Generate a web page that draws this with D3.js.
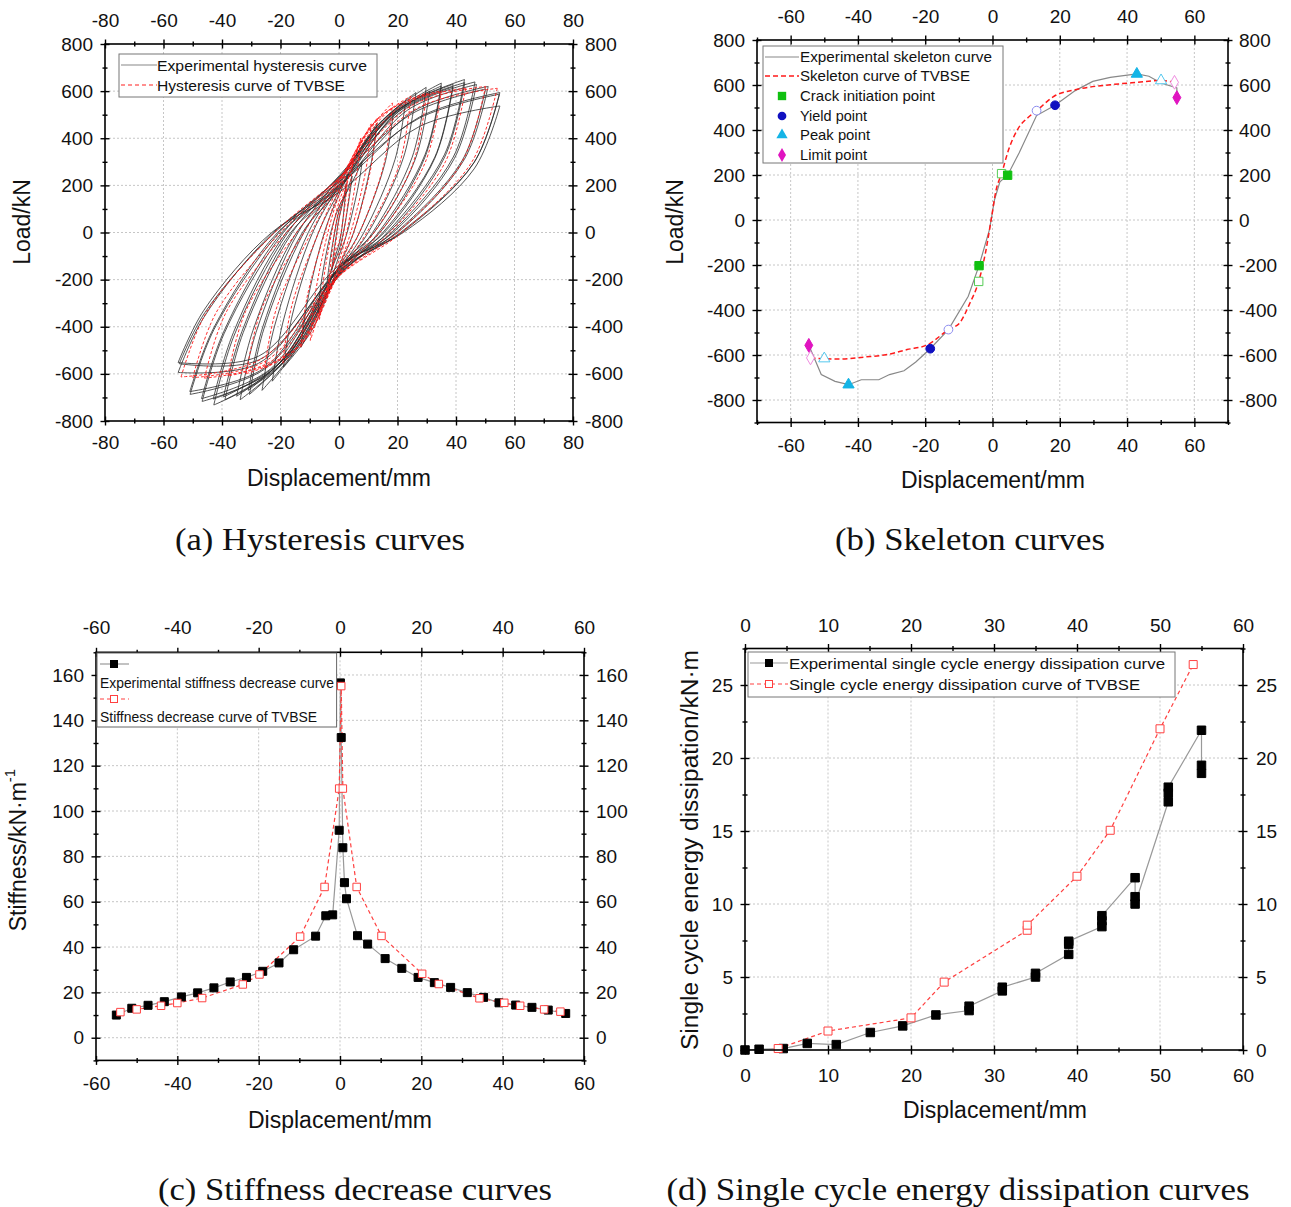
<!DOCTYPE html>
<html lang="en">
<head>
<meta charset="utf-8">
<title>TVBSE test curves</title>
<script src="https://cdn.jsdelivr.net/npm/d3@7"></script>
<style>
  body { margin: 0; background: #fff; }
  svg text { font-family: "Liberation Sans", Arial, sans-serif; fill: #111; }
  .grid line { stroke: #c6c6c6; stroke-dasharray: 2,2; stroke-width: 1; }
  .frame { fill: none; stroke: #000; stroke-width: 1.6; }
</style>
</head>
<body>
<svg id="chart" width="1291" height="1207"></svg>
<script>
// ---- (a) hysteresis loops: tips, zero crossings and shoulder loads read per loop
var expPosDisp   = [2.5, 4.5, 7.9, 13, 18.6, 22.8, 26.3, 29.8, 31, 35, 35, 39, 39, 42.9, 43, 46.5, 47, 50.1, 51, 54.8, 55, 55];
var expPosLoad   = [209, 240, 298, 464, 510, 560, 594, 616, 600, 634, 622, 629, 618, 649, 636, 639, 628, 609, 620, 587, 594, 537];
var expNegDisp   = [-2.5, -4, -7.2, -13, -19, -22.8, -26.3, -30.6, -31, -33.8, -35, -39, -39.5, -42.8, -43, -46.8, -47, -50.9, -51, -54.6, -55, -55];
var expNegLoad   = [-160, -203, -339, -487, -572, -631, -670, -687, -670, -710, -695, -710, -698, -732, -707, -717, -705, -687, -675, -557, -594, -552];
var expUpKnee    = [-115, -140, -210, -300, -350, -380, -400, -410, -400, -425, -415, -425, -420, -440, -425, -430, -423, -412, -405, -340, -360, -330];
var expUpZeroD   = [-0.8, -1.5, -2.8, -5, -7, -9, -10.5, -12, -12.5, -14, -14.5, -16, -16.5, -17.5, -18, -19, -19.5, -20.5, -21, -22, -22.5, -23];
var expUpZeroP   = [60, 90, 110, 160, 175, 200, 210, 220, 180, 230, 190, 225, 185, 240, 200, 235, 190, 230, 195, 215, 200, 170];
var expUpMid     = [125, 160, 200, 320, 385, 430, 455, 475, 470, 500, 495, 515, 505, 530, 525, 530, 520, 505, 515, 485, 490, 450];
var expDownKnee  = [150, 170, 200, 290, 290, 310, 320, 320, 310, 330, 320, 320, 315, 330, 320, 320, 315, 305, 310, 295, 297, 270];
var expDownZeroD = [0.8, 1.5, 2.8, 5, 7, 8.5, 10, 11.5, 12, 13.5, 14, 15, 15.5, 16.5, 17, 18, 18.5, 19.5, 20, 21, 21.5, 22];
var expDownZeroP = [-50, -75, -100, -140, -150, -165, -170, -175, -145, -180, -150, -175, -150, -185, -155, -180, -150, -175, -150, -165, -160, -140];
var expDownMid   = [-100, -140, -230, -330, -420, -440, -470, -500, -490, -525, -520, -555, -545, -580, -570, -590, -580, -580, -575, -540, -555, -525];

var tvPosDisp   = [2.7, 4.8, 7.4, 11, 13.1, 18.3, 24.6, 30, 35, 43.3, 50.1, 54.1];
var tvPosLoad   = [206, 313, 401, 461, 486, 550, 579, 592, 601, 612, 620, 612];
var tvNegDisp   = [-2, -4, -6.7, -9.8, -13.1, -19.2, -25.4, -31.7, -38, -46, -50, -54];
var tvNegLoad   = [-139, -273, -369, -458, -487, -554, -576, -599, -609, -618, -616, -613];
var tvUpKnee    = [-95, -190, -230, -270, -280, -310, -320, -330, -335, -340, -340, -340];
var tvUpZeroD   = [-0.6, -1.5, -2.5, -3.8, -4.8, -7, -9.5, -12, -14.5, -18, -20, -22];
var tvUpZeroP   = [60, 100, 130, 160, 180, 200, 215, 220, 225, 230, 230, 230];
var tvUpMid     = [130, 190, 250, 330, 360, 420, 470, 500, 520, 540, 540, 530];
var tvDownKnee  = [140, 220, 260, 270, 280, 290, 290, 290, 295, 300, 300, 300];
var tvDownZeroD = [0.7, 1.6, 2.6, 4, 5, 7, 9.5, 12, 14, 17.5, 20, 21.5];
var tvDownZeroP = [-45, -90, -120, -140, -150, -165, -175, -180, -180, -185, -185, -185];
var tvDownMid   = [-70, -130, -200, -280, -330, -420, -470, -505, -525, -545, -545, -540];

// ---- (b) skeleton curves
var skelExpX = [-54.6, -50.9, -46.8, -42.8, -39, -33.8, -30.6, -26.3, -22.8, -18.5, -13.1, -7.2, -4, -0.9, 0.6, 2.2, 4.5, 7.9, 13.1, 18.6, 24.6, 29.8, 35, 42.9, 46.5, 50.1, 54.8, 54.8];
var skelExpY = [-557, -687, -717, -732, -710, -710, -687, -670, -631, -572, -487, -339, -203, -43, 90, 170, 199, 298, 464, 510, 575, 616, 634, 649, 639, 609, 587, 544];
var skelTvX = [-54.1, -46, -38, -31.7, -25.4, -19.2, -13.1, -9.8, -6.7, -4.1, -2, -0.4, 1.1, 2.7, 4.8, 7.4, 11, 13.1, 18.3, 24.6, 35, 43.3, 50.1, 54.1];
var skelTvY = [-613, -618, -609, -599, -576, -554, -487, -458, -369, -273, -139, 1, 135, 206, 313, 401, 461, 486, 550, 579, 601, 612, 620, 612];
var crackExp = [[-4, -203], [4.5, 199]],   crackTv = [[-4.1, -273], [2.7, 206]];
var yieldExp = [[-18.5, -572], [18.6, 510]], yieldTv = [[-13.1, -487], [13.1, 486]];
var peakExp  = [[-42.8, -732], [42.9, 649]], peakTv  = [[-50, -616], [50.1, 620]];
var limitExp = [[-54.6, -557], [54.8, 544]], limitTv = [[-54.1, -613], [54.1, 612]];

// ---- (c) stiffness
var stiffExpX = [-55, -51.2, -47.2, -43.2, -39, -35, -31, -27, -23, -19, -15, -11.4, -6, -3.5, -1.8, -0.2, 0.1, 0.3, 0.7, 1.1, 1.6, 4.3, 6.8, 11.1, 15.2, 19.2, 23.2, 27.2, 31.3, 35.3, 39.1, 43.2, 47.2, 51.2, 55.5];
var stiffExpY = [10, 13, 14.3, 15.9, 18, 19.8, 22, 24.6, 26.6, 29.3, 33, 38.8, 44.8, 53.8, 54.2, 91.5, 156.5, 132.4, 83.8, 68.4, 61.3, 45, 41.3, 34.9, 30.6, 26.6, 24.3, 22.2, 19.9, 17.8, 15.4, 14.4, 13.4, 12.2, 10.7];
var stiffTvX = [-54, -50, -44, -40, -33.9, -23.9, -19.8, -9.8, -3.8, -0.2, 0.3, 0.7, 4.1, 10.2, 20.2, 24.3, 34.3, 40.4, 44.3, 50.2, 54.2];
var stiffTvY = [11.3, 12.5, 14.1, 15.3, 17.5, 23.5, 27.9, 44.6, 66.5, 109.9, 155.1, 109.9, 66.5, 44.9, 28.2, 23.7, 17.4, 15.4, 14.1, 12.5, 11.5];

// ---- (d) single cycle energy dissipation
var energyExpX = [0, 1.7, 4.6, 7.5, 11, 15.1, 19, 23, 27, 27, 31, 31, 35, 35, 39, 39, 39, 43, 43, 43, 47, 47, 47, 51, 51, 51, 55, 55, 55];
var energyExpY = [0, 0.05, 0.1, 0.45, 0.37, 1.2, 1.65, 2.4, 2.7, 3.0, 4.05, 4.3, 5.0, 5.25, 6.55, 7.25, 7.45, 8.45, 8.85, 9.2, 11.8, 10.5, 10.0, 17.0, 17.6, 18.0, 21.9, 19.5, 18.95];
var energyTvX = [4, 10, 20, 24, 34, 34, 40, 44, 50, 54];
var energyTvY = [0.1, 1.3, 2.2, 4.65, 8.2, 8.55, 11.9, 15.05, 22.0, 26.4];

var svg = d3.select("#chart");
svg.append("rect").attr("width", 1291).attr("height", 1207).attr("fill", "#fff");

function range(a, b, s) { return d3.range(a, b + s / 2, s); }

function makePanel(o) {
  var x = d3.scaleLinear().domain(o.xDomain).range([o.left, o.right]);
  var y = d3.scaleLinear().domain(o.yDomain).range([o.bottom, o.top]);
  var g = svg.append("g");
  var grid = g.append("g").attr("class", "grid");
  grid.selectAll(".gx").data(o.xGrid).enter().append("line")
      .attr("x1", function(d) { return x(d); }).attr("x2", function(d) { return x(d); })
      .attr("y1", o.top).attr("y2", o.bottom);
  grid.selectAll(".gy").data(o.yGrid).enter().append("line")
      .attr("y1", function(d) { return y(d); }).attr("y2", function(d) { return y(d); })
      .attr("x1", o.left).attr("x2", o.right);
  var data = g.append("g");
  var axes = g.append("g");
  axes.append("rect").attr("class", "frame")
      .attr("x", o.left).attr("y", o.top)
      .attr("width", o.right - o.left).attr("height", o.bottom - o.top);
  var fmt = function(d) { return String(d); };
  var sides = [
    [d3.axisBottom, x, o.xTicks, o.xMinor, "translate(0," + o.bottom + ")", o.pad[3]],
    [d3.axisTop, x, o.xTicks, o.xMinor, "translate(0," + o.top + ")", o.pad[1]],
    [d3.axisLeft, y, o.yTicks, o.yMinor, "translate(" + o.left + ",0)", o.pad[0]],
    [d3.axisRight, y, o.yTicks, o.yMinor, "translate(" + o.right + ",0)", o.pad[2]]
  ];
  sides.forEach(function(s) {
    var a = axes.append("g").attr("transform", s[4]);
    [[s[3], 2.5, false], [s[2], 4.5, true]].forEach(function(t) {
      a.append("g").call(s[0](s[1]).tickValues(t[0]).tickSize(t[1]).tickSizeOuter(0)
        .tickPadding(s[5]).tickFormat(t[2] ? fmt : ""));
      a.append("g").call(s[0](s[1]).tickValues(t[0]).tickSize(-t[1]).tickSizeOuter(0).tickFormat(""));
    });
  });
  axes.selectAll(".domain").remove();
  axes.selectAll(".tick line").attr("stroke", "#000").attr("stroke-width", 1.4);
  axes.selectAll(".tick text").attr("font-size", 19)
      .attr("font-family", "Liberation Sans, Arial, sans-serif").attr("fill", "#111");
  return { x: x, y: y, data: data, g: g };
}

function xTitle(cx, by, txt) {
  svg.append("text").attr("x", cx).attr("y", by).attr("text-anchor", "middle")
     .attr("font-size", 23).attr("textLength", 184).attr("lengthAdjust", "spacingAndGlyphs").text(txt);
}
function yTitle(cx, cy, txt, len) {
  var t = svg.append("text").attr("transform", "translate(" + cx + "," + cy + ") rotate(-90)")
     .attr("text-anchor", "middle").attr("dominant-baseline", "central").attr("font-size", 23).text(txt);
  if (len) t.attr("textLength", len).attr("lengthAdjust", "spacingAndGlyphs");
  return t;
}
function caption(cx, by, len, txt) {
  svg.append("text").attr("x", cx).attr("y", by).attr("text-anchor", "middle")
     .attr("font-size", 32).attr("textLength", len).attr("lengthAdjust", "spacingAndGlyphs")
     .style("font-family", "'Liberation Serif', 'Times New Roman', serif").text(txt);
}
function legendText(g, x, y, size, len, txt) {
  g.append("text").attr("x", x).attr("y", y).attr("font-size", size)
   .attr("textLength", len).attr("lengthAdjust", "spacingAndGlyphs").text(txt);
}

// ================= (a) Hysteresis =================
var A = makePanel({
  left: 105, right: 573, top: 44, bottom: 421,
  xDomain: [-80, 80], yDomain: [-800, 800],
  xTicks: range(-80, 80, 20), xMinor: range(-70, 70, 20),
  yTicks: range(-800, 800, 200), yMinor: range(-700, 700, 200),
  xGrid: range(-60, 60, 20), yGrid: range(-600, 600, 200),
  pad: [7.5, 12.7, 7.5, 10]
});

function drawLoops(P, n, posD, posP, negD, negP, upKnee, upZD, upZP, upMid, dnKnee, dnZD, dnZP, dnMid, stroke, dash, width, op) {
  var line = d3.line().curve(d3.curveCatmullRom.alpha(0.5))
      .x(function(d) { return P.x(d[0]); }).y(function(d) { return P.y(d[1]); });
  for (var i = 0; i < n; i++) {
    var tp = [posD[i], posP[i]], tn = [negD[i], negP[i]];
    var up = [tn, [0.84 * tn[0], upKnee[i]], [upZD[i], 0], [0, upZP[i]], [tp[0] / 2, upMid[i]], tp];
    var down = [tp, [0.84 * tp[0], dnKnee[i]], [dnZD[i], 0], [0, dnZP[i]], [tn[0] / 2, dnMid[i]], tn];
    [up, down].forEach(function(br) {
      P.data.append("path").attr("d", line(br)).attr("fill", "none")
        .attr("stroke", stroke).attr("stroke-width", width).attr("stroke-opacity", op)
        .attr("stroke-dasharray", dash);
    });
  }
}
drawLoops(A, expPosDisp.length, expPosDisp, expPosLoad, expNegDisp, expNegLoad, expUpKnee, expUpZeroD, expUpZeroP, expUpMid,
          expDownKnee, expDownZeroD, expDownZeroP, expDownMid, "#2a2a2a", null, 1, 0.8);
drawLoops(A, tvPosDisp.length, tvPosDisp, tvPosLoad, tvNegDisp, tvNegLoad, tvUpKnee, tvUpZeroD, tvUpZeroP, tvUpMid,
          tvDownKnee, tvDownZeroD, tvDownZeroP, tvDownMid, "#ff1a1a", "3,2", 1, 0.9);

var la = A.g.append("g");
la.append("rect").attr("x", 119).attr("y", 54).attr("width", 258).attr("height", 43)
  .attr("fill", "#fff").attr("stroke", "#777").attr("stroke-width", 1);
la.append("line").attr("x1", 121).attr("x2", 157).attr("y1", 65).attr("y2", 65).attr("stroke", "#888").attr("stroke-width", 1.2);
la.append("line").attr("x1", 121).attr("x2", 157).attr("y1", 85).attr("y2", 85).attr("stroke", "#ff2020").attr("stroke-width", 1.2).attr("stroke-dasharray", "4,3");
legendText(la, 157, 71, 15, 210, "Experimental hysteresis curve");
legendText(la, 157, 91, 15, 188, "Hysteresis curve of TVBSE");

xTitle(339, 486, "Displacement/mm");
yTitle(22, 222, "Load/kN");
caption(320, 550, 290, "(a) Hysteresis curves");

// ================= (b) Skeleton =================
var B = makePanel({
  left: 757, right: 1228, top: 40, bottom: 422.5,
  xDomain: [-70, 70], yDomain: [-900, 800],
  xTicks: range(-60, 60, 20), xMinor: range(-70, 70, 20),
  yTicks: range(-800, 800, 200), yMinor: range(-900, 700, 200),
  xGrid: range(-60, 60, 20), yGrid: range(-800, 600, 200),
  pad: [7.5, 12.7, 6.5, 11.3]
});
var lineB = d3.line().curve(d3.curveMonotoneX).x(function(d) { return B.x(d[0]); }).y(function(d) { return B.y(d[1]); });
var lineBL = d3.line().x(function(d) { return B.x(d[0]); }).y(function(d) { return B.y(d[1]); });
B.data.append("path").attr("d", lineBL(d3.zip(skelExpX, skelExpY))).attr("fill", "none")
  .attr("stroke", "#888").attr("stroke-width", 1.2);
B.data.append("path").attr("d", lineB(d3.zip(skelTvX, skelTvY))).attr("fill", "none")
  .attr("stroke", "#ff1a1a").attr("stroke-width", 1.5).attr("stroke-dasharray", "5,3");

function marks(P, pts, type, size, fill, stroke) {
  P.data.selectAll(null).data(pts).enter().append("path")
    .attr("d", d3.symbol().type(type).size(size))
    .attr("transform", function(d) { return "translate(" + P.x(d[0]) + "," + P.y(d[1]) + ")"; })
    .attr("fill", fill).attr("stroke", stroke).attr("stroke-width", 1);
}
marks(B, crackTv, d3.symbolSquare, 70, "#fff", "#55cc55");
marks(B, yieldTv, d3.symbolCircle, 60, "#fff", "#8c8cf0");
marks(B, peakTv, d3.symbolTriangle, 55, "#fff", "#55c8ee");
marks(B, limitTv, d3.symbolDiamond, 55, "#fff", "#f08ce0");
marks(B, crackExp, d3.symbolSquare, 70, "#10c010", "#10c010");
marks(B, yieldExp, d3.symbolCircle, 60, "#1010c0", "#1010c0");
marks(B, peakExp, d3.symbolTriangle, 55, "#14b4e6", "#14b4e6");
marks(B, limitExp, d3.symbolDiamond, 55, "#e014c0", "#e014c0");

var lb = B.g.append("g");
lb.append("rect").attr("x", 763).attr("y", 46).attr("width", 240).attr("height", 117)
  .attr("fill", "#fff").attr("stroke", "#777").attr("stroke-width", 1);
lb.append("line").attr("x1", 765).attr("x2", 799).attr("y1", 57).attr("y2", 57).attr("stroke", "#888").attr("stroke-width", 1.2);
lb.append("line").attr("x1", 765).attr("x2", 799).attr("y1", 76).attr("y2", 76).attr("stroke", "#ff1a1a").attr("stroke-width", 1.5).attr("stroke-dasharray", "5,3");
var legSym = [[d3.symbolSquare, 70, "#10c010", 96], [d3.symbolCircle, 60, "#1010c0", 116],
              [d3.symbolTriangle, 55, "#14b4e6", 135], [d3.symbolDiamond, 55, "#e014c0", 155]];
legSym.forEach(function(s) {
  lb.append("path").attr("d", d3.symbol().type(s[0]).size(s[1])())
    .attr("transform", "translate(782," + s[3] + ")").attr("fill", s[2]);
});
legendText(lb, 800, 62, 15, 192, "Experimental skeleton curve");
legendText(lb, 800, 81, 15, 170, "Skeleton curve of TVBSE");
legendText(lb, 800, 101, 15, 135, "Crack initiation point");
legendText(lb, 800, 121, 15, 67, "Yield point");
legendText(lb, 800, 140, 15, 70, "Peak point");
legendText(lb, 800, 160, 15, 67, "Limit point");

xTitle(993, 488, "Displacement/mm");
yTitle(675, 222, "Load/kN");
caption(970, 550, 270, "(b) Skeleton curves");

// ================= (c) Stiffness =================
var C = makePanel({
  left: 96, right: 584, top: 652.3, bottom: 1060.4,
  xDomain: [-60, 60], yDomain: [-10, 170],
  xTicks: range(-60, 60, 20), xMinor: range(-50, 50, 20),
  yTicks: range(0, 160, 20), yMinor: range(-10, 170, 20),
  xGrid: range(-40, 40, 20), yGrid: range(0, 160, 20),
  pad: [7.5, 14, 7.5, 11.4]
});
var lineC = d3.line().x(function(d) { return C.x(d[0]); }).y(function(d) { return C.y(d[1]); });
C.data.append("path").attr("d", lineC(d3.zip(stiffExpX, stiffExpY))).attr("fill", "none")
  .attr("stroke", "#999").attr("stroke-width", 1.2);
C.data.append("path").attr("d", lineC(d3.zip(stiffTvX, stiffTvY))).attr("fill", "none")
  .attr("stroke", "#ff4040").attr("stroke-width", 1.2).attr("stroke-dasharray", "4,3");
marks(C, d3.zip(stiffExpX, stiffExpY), d3.symbolSquare, 64, "#000", "#000");
marks(C, d3.zip(stiffTvX, stiffTvY), d3.symbolSquare, 56, "#fff", "#ff4040");

var lc = C.g.append("g");
lc.append("rect").attr("x", 97).attr("y", 653).attr("width", 239.6).attr("height", 74)
  .attr("fill", "#fff").attr("stroke", "#666").attr("stroke-width", 1);
lc.append("line").attr("x1", 100).attr("x2", 129).attr("y1", 664).attr("y2", 664).attr("stroke", "#999").attr("stroke-width", 1.2);
lc.append("rect").attr("x", 110).attr("y", 660).attr("width", 8).attr("height", 8).attr("fill", "#000");
lc.append("line").attr("x1", 100).attr("x2", 129).attr("y1", 699).attr("y2", 699).attr("stroke", "#ff4040").attr("stroke-width", 1.2).attr("stroke-dasharray", "4,3");
lc.append("rect").attr("x", 110.5).attr("y", 695.5).attr("width", 7).attr("height", 7).attr("fill", "#fff").attr("stroke", "#ff4040");
legendText(lc, 100, 688, 14, 234, "Experimental stiffness decrease curve");
legendText(lc, 100, 722, 14, 217, "Stiffness decrease curve of TVBSE");

xTitle(340, 1128, "Displacement/mm");
var st = yTitle(18, 850, "Stiffness/kN·m");
st.append("tspan").attr("baseline-shift", "super").attr("font-size", 15).text("-1");
caption(355, 1200, 394, "(c) Stiffness decrease curves");

// ================= (d) Energy =================
var D = makePanel({
  left: 745, right: 1243, top: 648.5, bottom: 1050,
  xDomain: [0, 60], yDomain: [0, 27.5],
  xTicks: range(0, 60, 10), xMinor: range(5, 55, 10),
  yTicks: range(0, 25, 5), yMinor: range(2.5, 27.5, 5),
  xGrid: range(10, 50, 10), yGrid: range(5, 25, 5),
  pad: [7.5, 12.2, 8.5, 13.8]
});
var lineD = d3.line().x(function(d) { return D.x(d[0]); }).y(function(d) { return D.y(d[1]); });
D.data.append("path").attr("d", lineD(d3.zip(energyExpX, energyExpY))).attr("fill", "none")
  .attr("stroke", "#999").attr("stroke-width", 1.2);
D.data.append("path").attr("d", lineD(d3.zip(energyTvX, energyTvY))).attr("fill", "none")
  .attr("stroke", "#ff4040").attr("stroke-width", 1.2).attr("stroke-dasharray", "4,3");
marks(D, d3.zip(energyExpX, energyExpY), d3.symbolSquare, 72, "#000", "#000");
marks(D, d3.zip(energyTvX, energyTvY), d3.symbolSquare, 64, "#fff", "#ff4040");

var ld = D.g.append("g");
ld.append("rect").attr("x", 748).attr("y", 652).attr("width", 427).attr("height", 45)
  .attr("fill", "#fff").attr("stroke", "#777").attr("stroke-width", 1);
ld.append("line").attr("x1", 750).attr("x2", 788).attr("y1", 663).attr("y2", 663).attr("stroke", "#999").attr("stroke-width", 1.2);
ld.append("rect").attr("x", 765).attr("y", 659).attr("width", 8).attr("height", 8).attr("fill", "#000");
ld.append("line").attr("x1", 750).attr("x2", 788).attr("y1", 684).attr("y2", 684).attr("stroke", "#ff4040").attr("stroke-width", 1.2).attr("stroke-dasharray", "4,3");
ld.append("rect").attr("x", 765.5).attr("y", 680.5).attr("width", 7).attr("height", 7).attr("fill", "#fff").attr("stroke", "#ff4040");
legendText(ld, 789, 669, 15, 376, "Experimental single cycle energy dissipation curve");
legendText(ld, 789, 690, 15, 351, "Single cycle energy dissipation curve of TVBSE");

xTitle(995, 1118, "Displacement/mm");
yTitle(690, 850, "Single cycle energy dissipation/kN·m", 400);
caption(958, 1200, 583, "(d) Single cycle energy dissipation curves");
</script>
</body>
</html>
